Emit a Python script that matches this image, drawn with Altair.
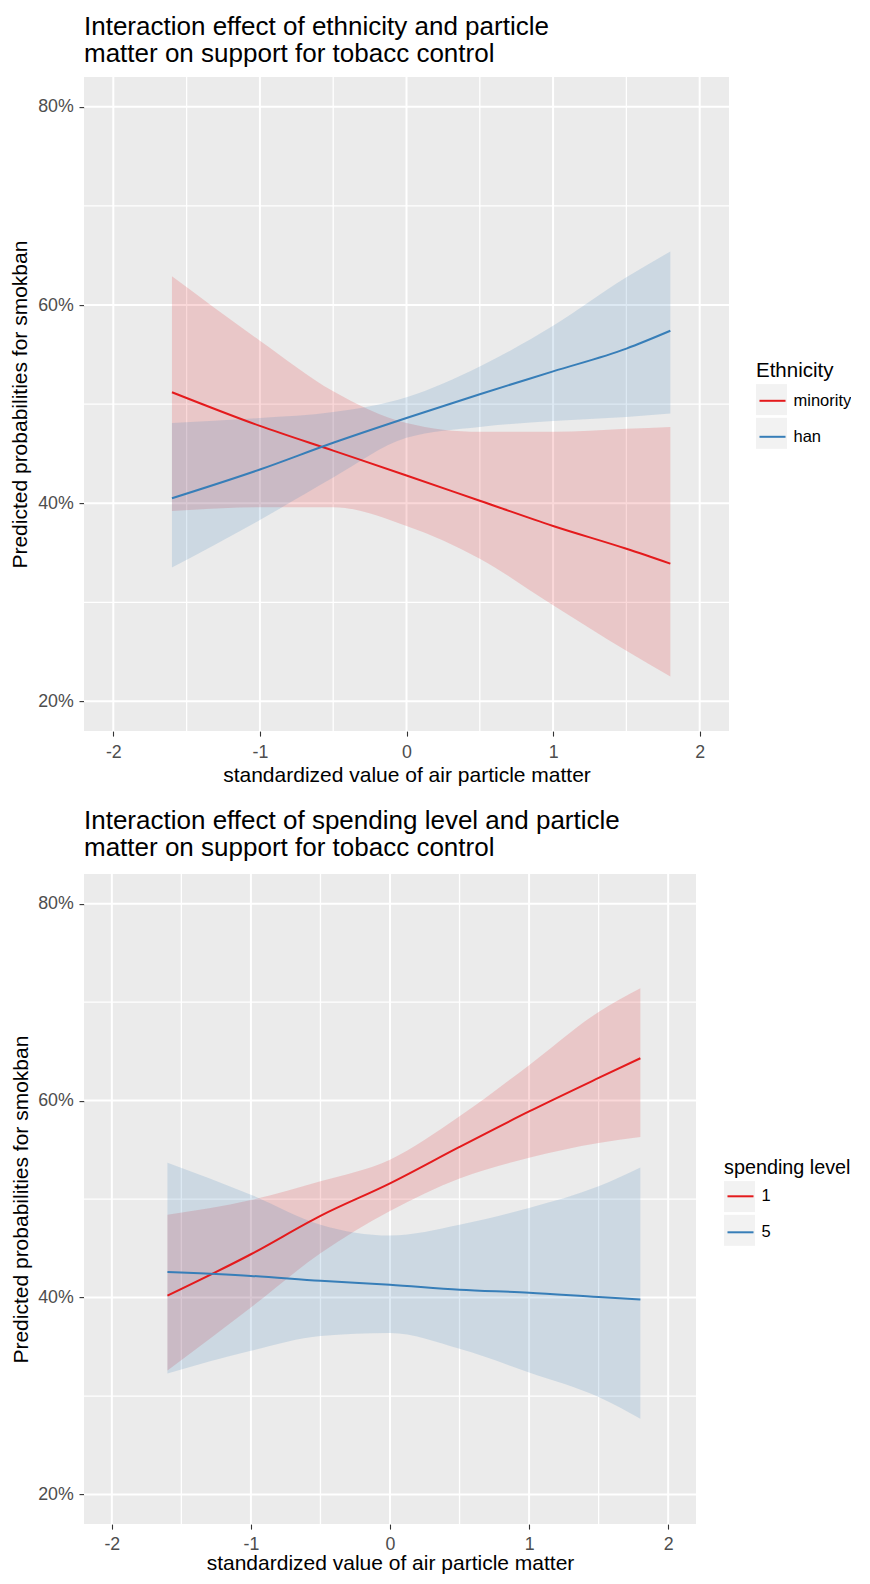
import altair as alt
import pandas as pd

FONT = "Liberation Sans"
RED = "#E41A1C"
BLUE = "#377EB8"
KEY_BG = "#F2F2F2"

# ---------------- data ----------------
x_pts = [-1.6, -1.0, -0.5, 0.0, 0.5, 1.0, 1.5, 1.8]

# top panel: ethnicity (percent)
eth_groups = ["minority", "han"]
minority_fit = [51.2, 47.8, 45.3, 42.8, 40.25, 37.7, 35.4, 33.9]
minority_low = [39.2, 39.6, 39.6, 37.7, 34.4, 29.7, 25.1, 22.5]
minority_up = [62.9, 56.4, 51.3, 48.1, 47.2, 47.2, 47.5, 47.7]
han_fit = [40.5, 43.4, 46.1, 48.6, 51.0, 53.3, 55.6, 57.4]
han_low = [33.5, 38.3, 42.6, 46.6, 47.7, 48.3, 48.7, 49.05]
han_up = [48.1, 48.6, 49.2, 50.7, 53.8, 57.9, 62.8, 65.4]

# bottom panel: spending level (percent)
spend_groups = ["1", "5"]
s1_fit = [40.2, 44.4, 48.3, 51.6, 55.3, 58.9, 62.3, 64.3]
s1_low = [32.6, 39.0, 44.5, 48.8, 52.1, 54.2, 55.7, 56.3]
s1_up = [48.4, 49.9, 51.8, 54.0, 58.4, 63.6, 69.0, 71.4]
s5_fit = [42.6, 42.2, 41.7, 41.3, 40.8, 40.5, 40.05, 39.8]
s5_low = [32.3, 34.6, 36.1, 36.4, 34.8, 32.4, 29.9, 27.7]
s5_up = [53.7, 50.45, 47.4, 46.3, 47.4, 49.1, 51.3, 53.2]

x_ticks = [-2, -1, 0, 1, 2]
x_minor = [-1.5, -0.5, 0.5, 1.5]
y_ticks = [0.2, 0.4, 0.6, 0.8]
y_minor = [0.3, 0.5, 0.7]

x_title = "standardized value of air particle matter"
y_title = "Predicted probabilities for smokban"

INDEP = dict(color="independent", fill="independent", stroke="independent")


def panel(groups, series, legend_title, legend_tsize, title_lines, width, height,
          ytitle_pad, legend_x, legend_y, box_y, title_off,
          key_tag, x_lpad, x_tpad):
    rows = []
    for g, (fit, lo, up) in zip(groups, series):
        for xv, f, l, u in zip(x_pts, fit, lo, up):
            rows.append({"x": xv, "group": g, "fit": f / 100,
                         "lower": l / 100, "upper": u / 100})
    df = pd.DataFrame(rows)

    xs = alt.Scale(domain=[-2.2, 2.2], nice=False, zero=False)
    ys = alt.Scale(domain=[0.17, 0.83], nice=False, zero=False)
    xax = alt.Axis(values=x_ticks, title=x_title, labelExpr="datum.value + ''",
                   labelPadding=x_lpad, titlePadding=x_tpad)
    yax = alt.Axis(values=y_ticks, title=y_title, format=".0%",
                   labelPadding=5.7, titlePadding=ytitle_pad)

    gx_major = alt.Chart(pd.DataFrame({"v": x_ticks})).mark_rule(
        color="white", strokeWidth=2).encode(x=alt.X("v:Q", scale=xs, axis=xax))
    gx_minor = alt.Chart(pd.DataFrame({"v": x_minor})).mark_rule(
        color="white", strokeWidth=1.3).encode(x=alt.X("v:Q", scale=xs, axis=xax))
    gy_major = alt.Chart(pd.DataFrame({"v": y_ticks})).mark_rule(
        color="white", strokeWidth=2).encode(y=alt.Y("v:Q", scale=ys, axis=yax))
    gy_minor = alt.Chart(pd.DataFrame({"v": y_minor})).mark_rule(
        color="white", strokeWidth=1.3).encode(y=alt.Y("v:Q", scale=ys, axis=yax))

    base = alt.Chart(df)
    band = base.mark_area(fillOpacity=0.17, interpolate="monotone").encode(
        x=alt.X("x:Q", scale=xs, axis=xax),
        y=alt.Y("lower:Q", scale=ys, axis=yax),
        y2="upper:Q",
        fill=alt.Fill("group:N", scale=alt.Scale(domain=groups, range=[RED, BLUE]),
                      legend=None),
        detail="group:N",
    )

    common = dict(orient="none", direction="vertical", legendX=legend_x,
                  labelFont=FONT, labelFontSize=16.5, labelColor="black",
                  labelOffset=4.5, symbolSize=961, padding=0, symbolOpacity=1)

    # grey key backgrounds (ggplot legend.key), no title / labels
    keybox = base.transform_filter("false").mark_point(
        shape="square", filled=True, opacity=1, size=1).encode(
        x=alt.X("x:Q", scale=xs, axis=xax),
        y=alt.Y("fit:Q", scale=ys, axis=yax),
        color=alt.Color("group:N",
                        scale=alt.Scale(domain=[key_tag + "a", key_tag + "b"],
                                        range=[KEY_BG, KEY_BG]),
                        legend=alt.Legend(symbolType="square", symbolStrokeWidth=0,
                                          title=None, labelExpr="''", zindex=0,
                                          rowPadding=2.7, legendY=box_y, **common)),
    )

    line = base.mark_line(strokeWidth=2, interpolate="monotone").encode(
        x=alt.X("x:Q", scale=xs, axis=xax),
        y=alt.Y("fit:Q", scale=ys, axis=yax),
        stroke=alt.Stroke("group:N", sort=groups, scale=alt.Scale(range=[RED, BLUE]),
                          legend=alt.Legend(symbolType="M0,-1M0,1M-0.84,0H0.84",
                                            symbolStrokeWidth=2, zindex=1,
                                            rowPadding=-8.1,
                                            legendY=legend_y, title=legend_title,
                                            titleFont=FONT, titleFontSize=legend_tsize,
                                            titleFontWeight="normal", titleColor="black",
                                            titlePadding=2.5, **common)),
    )

    return alt.layer(gx_minor, gy_minor, gx_major, gy_major, band, keybox, line).properties(
        width=width, height=height,
        title=alt.TitleParams(title_lines, anchor="start", frame="group",
                              font=FONT, fontSize=26, fontWeight="normal",
                              color="black", offset=title_off, lineHeight=27),
    )


top = panel(eth_groups,
            [(minority_fit, minority_low, minority_up), (han_fit, han_low, han_up)],
            "Ethnicity", 20.5,
            ["Interaction effect of ethnicity and particle",
             "matter on support for tobacc control"],
            645, 654, 7.5, 672, 284.2, 307, 9, "top_", 7, 4)

bottom = panel(spend_groups,
               [(s1_fit, s1_low, s1_up), (s5_fit, s5_low, s5_up)],
               "spending level", 19.8,
               ["Interaction effect of spending level and particle",
                "matter on support for tobacc control"],
               612, 650, 6.4, 640, 283.4, 307, 12.2, "bot_", 6, 0)

# Fixed drawing frame: the padding puts the first plot area at (84, 77) on the
# page and gives an 843 x 1568 drawing that fits the page without rescaling.
chart = alt.vconcat(top, bottom, spacing=21).resolve_scale(**INDEP).resolve_legend(**INDEP).properties(
    autosize=alt.AutoSizeParams(type="none"),
    padding={"left": 76, "top": 69.1, "right": 767, "bottom": 1498.9},
    background="white",
).configure_view(fill="#EBEBEB", stroke=None).configure_axis(
    domain=False, grid=False, tickColor="#333333", tickWidth=1.1, tickSize=5,
    labelColor="#4D4D4D", labelFont=FONT, labelFontSize=17.8,
    titleFont=FONT, titleFontSize=21, titleFontWeight="normal", titleColor="black",
)

chart.save("out.html", embed_options={"renderer": "svg", "actions": False})
